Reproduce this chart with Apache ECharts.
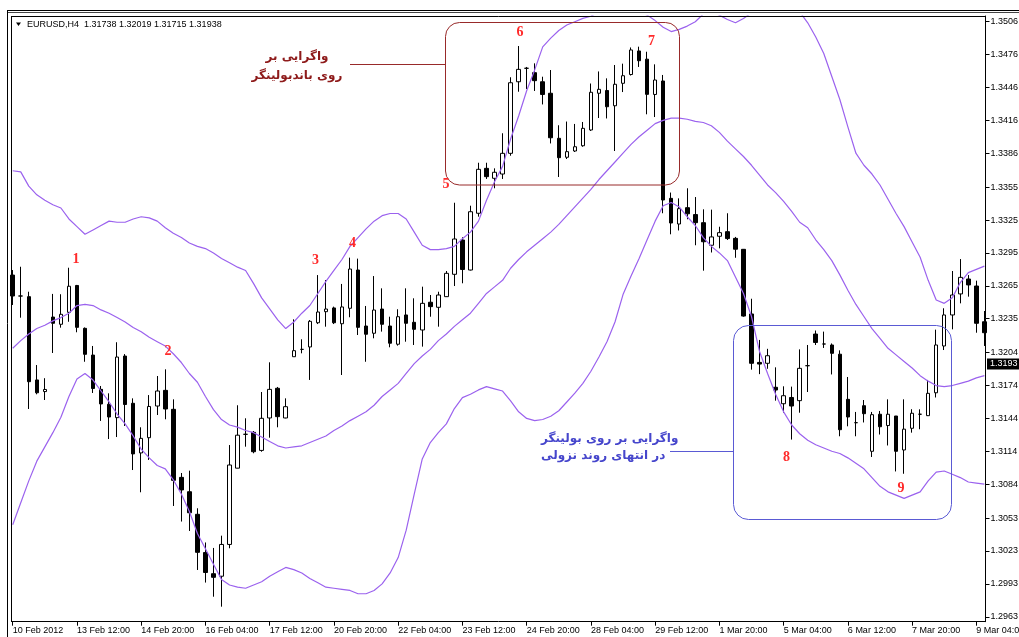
<!DOCTYPE html>
<html><head><meta charset="utf-8">
<script src="https://cdn.jsdelivr.net/npm/echarts@6/dist/echarts.min.js"></script>
<style>html,body{margin:0;padding:0;background:#fff}#c{width:1019px;height:637px}</style>
</head><body><div id="c"></div>
<script>
// ---------- DATA ----------
const titleText = 'EURUSD,H4  1.31738 1.32019 1.31715 1.31938';
const lastPrice = 1.31938;
const lastPriceLabel = '1.3193';
const xTickLabels = ['10 Feb 2012','13 Feb 12:00','14 Feb 20:00','16 Feb 04:00','17 Feb 12:00','20 Feb 20:00','22 Feb 04:00','23 Feb 12:00','24 Feb 20:00','28 Feb 04:00','29 Feb 12:00','1 Mar 20:00','5 Mar 04:00','6 Mar 12:00','7 Mar 20:00','9 Mar 04:00'];
const yTicks = [1.3506,1.3476,1.3446,1.3416,1.3386,1.3355,1.3325,1.3295,1.3265,1.3235,1.3204,1.3174,1.3144,1.3114,1.3084,1.3053,1.3023,1.2993,1.2963];
// [open, close, low, high]
const candles = [
[1.32748,1.32557,1.32475,1.32794],[1.32557,1.32557,1.32359,1.32824],[1.32551,1.31775,1.31526,1.32596],[1.31791,1.31674,1.31660,1.31927],
[1.31685,1.31704,1.31608,1.31807],[1.32365,1.32308,1.32037,1.32576],[1.32299,1.32390,1.32268,1.32573],[1.32408,1.32646,1.32322,1.32815],
[1.32653,1.32271,1.32226,1.32658],[1.32262,1.32025,1.31957,1.32270],[1.32018,1.31713,1.31672,1.32101],[1.31705,1.31572,1.31417,1.31736],
[1.31569,1.31453,1.31252,1.31669],[1.31447,1.32000,1.31270,1.32135],[1.32009,1.31567,1.31371,1.32027],[1.31578,1.31116,1.30969,1.31623],
[1.31125,1.31258,1.30766,1.31359],[1.31264,1.31549,1.31061,1.31653],[1.31553,1.31690,1.31471,1.31827],[1.31696,1.31526,1.31432,1.31888],
[1.31523,1.30875,1.30641,1.31614],[1.30902,1.30787,1.30499,1.30942],[1.30771,1.30579,1.30413,1.30963],[1.30565,1.30218,1.30057,1.30620],
[1.30216,1.30034,1.29942,1.30308],[1.30023,1.29990,1.29813,1.30258],[1.30000,1.30290,1.29722,1.30370],[1.30290,1.31015,1.30255,1.31197],
[1.30986,1.31287,1.30985,1.31560],[1.31295,1.31295,1.31182,1.31441],[1.31313,1.31136,1.31122,1.31325],[1.31148,1.31441,1.31136,1.31681],
[1.31444,1.31705,1.31264,1.31952],[1.31715,1.31456,1.31359,1.31727],[1.31444,1.31547,1.31441,1.31623],[1.32003,1.32058,1.32003,1.32344],
[1.32070,1.32070,1.32034,1.32162],[1.32092,1.32326,1.31791,1.32338],[1.32313,1.32411,1.32301,1.32748],[1.32414,1.32438,1.32277,1.32703],
[1.32448,1.32313,1.32301,1.32460],[1.32304,1.32457,1.31836,1.32667],[1.32445,1.32803,1.32363,1.32907],[1.32794,1.32271,1.32201,1.32898],
[1.32283,1.32208,1.31957,1.32466],[1.32217,1.32429,1.32171,1.32739],[1.32438,1.32299,1.32232,1.32627],[1.32283,1.32126,1.32089,1.32368],
[1.32117,1.32368,1.32104,1.32436],[1.32384,1.32308,1.32140,1.32627],[1.32317,1.32253,1.32110,1.32536],[1.32247,1.32490,1.32095,1.32642],
[1.32500,1.32460,1.32368,1.32566],[1.32454,1.32566,1.32277,1.32596],[1.32551,1.32764,1.32548,1.32785],[1.32755,1.33077,1.32648,1.33408],
[1.33068,1.32799,1.32673,1.33093],[1.32794,1.33326,1.32790,1.33381],[1.33312,1.33713,1.33281,1.33773],[1.33722,1.33646,1.33625,1.33773],
[1.33631,1.33686,1.33540,1.33722],[1.33670,1.33859,1.33625,1.34042],[1.33859,1.34503,1.33837,1.34553],[1.34512,1.34625,1.34421,1.34838],
[1.34635,1.34635,1.34446,1.34647],[1.34595,1.34522,1.34428,1.34680],[1.34512,1.34396,1.34305,1.34558],[1.34407,1.34001,1.33949,1.34619],
[1.33996,1.33819,1.33643,1.34115],[1.33823,1.33874,1.33807,1.34149],[1.33880,1.33919,1.33871,1.34127],[1.33928,1.34087,1.33919,1.34145],
[1.34072,1.34416,1.34063,1.34496],[1.34407,1.34443,1.34181,1.34606],[1.34432,1.34284,1.34177,1.34543],[1.34293,1.34489,1.33880,1.34665],
[1.34498,1.34567,1.34418,1.34677],[1.34578,1.34802,1.34569,1.34825],[1.34793,1.34704,1.34647,1.34832],[1.34718,1.34397,1.34215,1.34786],
[1.34396,1.34528,1.34190,1.34671],[1.34519,1.33433,1.33312,1.34574],[1.33448,1.33223,1.33120,1.33501],[1.33214,1.33354,1.33155,1.33448],
[1.33363,1.33307,1.33257,1.33540],[1.33300,1.33226,1.33020,1.33460],[1.33226,1.33052,1.32788,1.33348],[1.33020,1.33096,1.32954,1.33345],
[1.33102,1.33135,1.32992,1.33189],[1.33144,1.33081,1.33068,1.33312],[1.33083,1.32984,1.32906,1.33096],[1.32983,1.32374,1.32368,1.32986],
[1.32393,1.31943,1.31885,1.32532],[1.31951,1.31936,1.31844,1.32156],[1.31943,1.32012,1.31893,1.32075],[1.31724,1.31699,1.31602,1.31906],
[1.31574,1.31647,1.31492,1.31733],[1.31631,1.31553,1.31247,1.31730],[1.31602,1.31897,1.31492,1.32070],[1.31921,1.31921,1.31681,1.32110],
[1.32210,1.32133,1.32110,1.32242],[1.32119,1.32119,1.32083,1.32232],[1.32110,1.32034,1.31841,1.32124],[1.32026,1.31337,1.31277,1.32061],
[1.31614,1.31453,1.31368,1.31818],[1.31401,1.31401,1.31277,1.31499],[1.31556,1.31483,1.31403,1.31608],[1.31140,1.31474,1.31088,1.31499],
[1.31478,1.31364,1.31293,1.31508],[1.31375,1.31478,1.31193,1.31614],[1.31462,1.31140,1.30956,1.31462],[1.31152,1.31342,1.30935,1.31614],
[1.31350,1.31487,1.31310,1.31524],[1.31478,1.31478,1.31341,1.31523],[1.31465,1.31669,1.31462,1.31791],[1.31674,1.32110,1.31631,1.32250],
[1.32101,1.32384,1.32064,1.32445],[1.32384,1.32566,1.32253,1.32785],[1.32576,1.32727,1.32490,1.32894],[1.32712,1.32658,1.32551,1.32748],
[1.32648,1.32308,1.32222,1.32697],[1.32322,1.32222,1.32101,1.32420]
];
const bandUpper = [
1.3370,1.3369,1.3356,1.3348,1.3343,1.3339,1.3336,1.3326,1.3319,1.3312,
1.3316,1.3320,1.3324,1.3323,1.3323,1.3326,1.3328,1.3327,1.3324,1.3318,
1.3313,1.3309,1.3304,1.3301,1.3299,1.3295,1.3290,1.3286,1.3282,1.3279,
1.3267,1.3254,1.3244,1.3234,1.3226,1.3232,1.3240,1.3247,1.3258,1.3269,
1.3279,1.3289,1.3301,1.3309,1.3317,1.3324,1.3329,1.3331,1.3331,1.3326,
1.3314,1.3302,1.3298,1.3298,1.3299,1.3301,1.3308,1.3314,1.3324,1.3343,
1.3360,1.3374,1.3399,1.3420,1.3443,1.3462,1.3483,1.3491,1.3498,1.3503,
1.3506,1.3509,1.3511,1.3515,1.3518,1.3519,1.3519,1.3518,1.3515,1.3512,
1.3507,1.3501,1.3497,1.3499,1.3502,1.3506,1.3513,1.3515,1.3512,1.3508,
1.3505,1.3509,1.3514,1.3519,1.3522,1.3524,1.3523,1.3519,1.3515,1.3505,
1.3492,1.3477,1.3456,1.3435,1.3410,1.3386,1.3375,1.3367,1.3357,1.3344,
1.3331,1.3319,1.3305,1.3291,1.3270,1.3252,1.3249,1.3254,1.3268,1.3277,
1.3280,1.3283
];
const bandMiddle = [
1.3208,1.3215,1.3221,1.3226,1.3229,1.3233,1.3236,1.3240,1.3247,1.3248,
1.3247,1.3243,1.3240,1.3236,1.3232,1.3227,1.3223,1.3218,1.3214,1.3210,
1.3203,1.3195,1.3185,1.3177,1.3164,1.3152,1.3143,1.3138,1.3136,1.3133,
1.3131,1.3127,1.3123,1.3119,1.3117,1.3118,1.3119,1.3122,1.3125,1.3128,
1.3133,1.3137,1.3142,1.3146,1.3150,1.3156,1.3164,1.3170,1.3176,1.3185,
1.3194,1.3201,1.3207,1.3215,1.3221,1.3228,1.3234,1.3240,1.3249,1.3258,
1.3264,1.3270,1.3281,1.3289,1.3296,1.3302,1.3308,1.3314,1.3321,1.3329,
1.3337,1.3345,1.3353,1.3362,1.3370,1.3378,1.3386,1.3394,1.3401,1.3407,
1.3413,1.3416,1.3418,1.3418,1.3417,1.3415,1.3414,1.3411,1.3405,1.3397,
1.3390,1.3383,1.3375,1.3366,1.3357,1.3350,1.3342,1.3333,1.3323,1.3318,
1.3307,1.3298,1.3288,1.3275,1.3261,1.3248,1.3237,1.3226,1.3217,1.3208,
1.3202,1.3196,1.3190,1.3183,1.3178,1.3174,1.3173,1.3174,1.3176,1.3178,
1.3181,1.3183
];
const bandLower = [
1.3047,1.3067,1.3087,1.3105,1.3118,1.3131,1.3145,1.3164,1.3180,1.3185,
1.3179,1.3169,1.3159,1.3148,1.3139,1.3128,1.3116,1.3108,1.3101,1.3098,
1.3088,1.3075,1.3059,1.3039,1.3025,1.3011,1.2997,1.2992,1.2990,1.2989,
1.2992,1.2995,1.3000,1.3004,1.3008,1.3006,1.3003,1.2998,1.2994,1.2990,
1.2989,1.2988,1.2987,1.2984,1.2984,1.2987,1.2993,1.3003,1.3017,1.3042,
1.3075,1.3107,1.3122,1.3131,1.3139,1.3153,1.3163,1.3166,1.3170,1.3173,
1.3171,1.3169,1.3160,1.3150,1.3144,1.3142,1.3143,1.3146,1.3151,1.3159,
1.3167,1.3176,1.3187,1.3200,1.3214,1.3232,1.3257,1.3274,1.3290,1.3307,
1.3324,1.3338,1.3341,1.3337,1.3328,1.3320,1.3309,1.3301,1.3295,1.3288,
1.3273,1.3258,1.3237,1.3205,1.3185,1.3166,1.3150,1.3138,1.3130,1.3124,
1.3120,1.3117,1.3114,1.3112,1.3108,1.3103,1.3098,1.3090,1.3082,1.3077,
1.3074,1.3071,1.3074,1.3077,1.3087,1.3095,1.3096,1.3093,1.3090,1.3086,
1.3085,1.3084
];
const annotRed = ['واگرایی بر', 'روی باندبولینگر'];
const annotBlue = ['واگرایی بر روی بولینگر', 'در انتهای روند نزولی'];
const pointLabels = ['1','2','3','4','5','6','7','8','9'];

// ---------- CATEGORIES (H4 bars, weekends skipped) ----------
const months = ['Jan','Feb','Mar','Apr','May','Jun','Jul','Aug','Sep','Oct','Nov','Dec'];
const categories = [];
for (let t = Date.UTC(2012,1,10,4); categories.length < candles.length; t += 4*3600*1000) {
  const d = new Date(t), wd = d.getUTCDay();
  if (wd === 0 || wd === 6) continue;
  const hh = String(d.getUTCHours()).padStart(2,'0');
  categories.push(d.getUTCDate() + ' ' + months[d.getUTCMonth()] + ' ' + hh + ':00');
}

// ---------- CHART ----------
const chart = echarts.init(document.getElementById('c'), null, {renderer:'canvas'});
const purple = '#9b62ee';
const band = (name, data) => ({type:'line', name, data, showSymbol:false, symbol:'none', smooth:false,
  lineStyle:{color:purple, width:1.2}, z:4, silent:true});
const axisFont = {color:'#000', fontSize:9, fontFamily:'Liberation Sans, Arial, sans-serif'};

chart.setOption({
  animation:false,
  backgroundColor:'#ffffff',
  grid:{left:8.7, right:30.6, top:16, bottom:15.3, show:false, containLabel:false, outerBoundsMode:'none'},
  xAxis:{type:'category', data:categories, boundaryGap:true,
    axisLine:{show:false},
    axisTick:{show:true, interval:7, alignWithLabel:true, length:4, lineStyle:{color:'#000', width:1}},
    axisLabel:Object.assign({interval:7, align:'left', margin:4,
      formatter:(v,i)=> (i % 8 === 0 && xTickLabels[i/8]) ? xTickLabels[i/8] : ''}, axisFont),
    splitLine:{show:false}},
  yAxis:{type:'value', position:'right', min:1.29585, max:1.35112, offset:-2.9,
    axisLine:{show:true, lineStyle:{color:'#000', width:1}},
    axisTick:{show:true, length:4, customValues:yTicks, lineStyle:{color:'#000', width:1}},
    axisLabel:Object.assign({customValues:yTicks, margin:5, formatter:v=>v.toFixed(4)}, axisFont),
    splitLine:{show:false}},
  series:[
    {type:'candlestick', data:candles, barWidth:4, z:3,
     itemStyle:{color:'#ffffff', color0:'#000000', borderColor:'#000000', borderColor0:'#000000', borderColorDoji:'#000000', borderWidth:1}},
    band('upper', bandUpper), band('middle', bandMiddle), band('lower', bandLower)
  ]
});

// ---------- DECORATIONS ----------
const yLast = chart.convertToPixel({yAxisIndex:0}, lastPrice);
const ln = (x1,y1,x2,y2,stroke,w) => ({type:'line', z:100, silent:true, shape:{x1,y1,x2,y2}, style:{stroke, lineWidth:w||1}});
const txt = (x,y,text,font,fill,align,va) => ({type:'text', z:101, silent:true, x, y,
  style:{text, font, fill, align:align||'left', verticalAlign:va||'middle', textAlign:align||'left', textVerticalAlign:va||'middle'}});
const numFont = 'bold 14px "Liberation Serif", serif';
const numColor = '#ff2b2b';
const numPos = [[76,259],[168,351],[315.5,260],[352.5,243.5],[446,184],[520,32],[651.5,41],[786.5,457],[901,488.5]];
const redFont = 'bold 12px "DejaVu Sans", sans-serif';
const blueFont = 'bold 12px "DejaVu Sans", sans-serif';

const graphics = [
  // window / chart frame
  ln(7,10.5,1019,10.5,'#000'), ln(7,12.5,1019,12.5,'#444'), ln(7.5,10,7.5,637,'#000'),
  ln(11,16.5,985.5,16.5,'#000'), ln(11.5,16,11.5,622,'#000'), ln(11,621.5,986,621.5,'#000'),
  // title
  {type:'polygon', z:101, silent:true, shape:{points:[[16,22.5],[21,22.5],[18.5,26]]}, style:{fill:'#000'}},
  txt(27,24.5,titleText,'9px "Liberation Sans", Arial, sans-serif','#000'),
  // red annotation
  {type:'rect', z:100, silent:true, shape:{x:445.5,y:22.5,width:234,height:162.5,r:14}, style:{fill:'none', stroke:'#982a2a', lineWidth:1}},
  ln(350,64.5,445.5,64.5,'#982a2a'),
  txt(297,56.5,annotRed[0],redFont,'#8e1b1b','center'),
  txt(297,76,annotRed[1],redFont,'#8e1b1b','center'),
  // blue annotation
  {type:'rect', z:100, silent:true, shape:{x:733.5,y:325.5,width:218,height:194,r:15}, style:{fill:'none', stroke:'#5a5ad4', lineWidth:1}},
  ln(670,451.5,733.5,451.5,'#5a5ad4'),
  txt(541,438.5,annotBlue[0],blueFont,'#4646cc','left'),
  txt(541,455.5,annotBlue[1],blueFont,'#4646cc','left'),
  // current price marker
  {type:'rect', z:100, silent:true, shape:{x:987,y:Math.round(yLast)-5.5,width:32,height:11}, style:{fill:'#000'}},
  txt(990,Math.round(yLast),lastPriceLabel,'9px "Liberation Sans", Arial, sans-serif','#fff')
];
pointLabels.forEach((s,i)=> graphics.push(txt(numPos[i][0], numPos[i][1], s, numFont, numColor, 'center')));
chart.setOption({graphic:{elements:graphics}});
</script></body></html>
